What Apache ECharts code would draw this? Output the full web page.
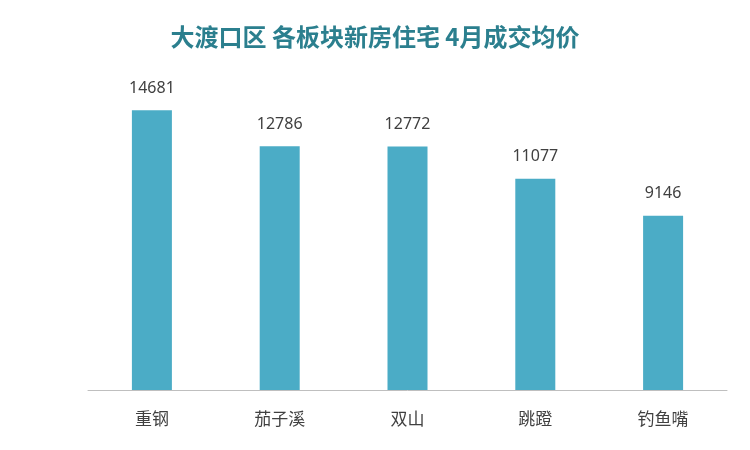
<!DOCTYPE html>
<html><head><meta charset="utf-8">
<script src="https://cdn.jsdelivr.net/npm/echarts@6/dist/echarts.min.js"></script>
<style>html,body{margin:0;padding:0;background:#fff}#c{width:750px;height:450px}</style>
</head><body><div id="c"></div>
<script>
const categories = ['重钢','茄子溪','双山','跳蹬','钓鱼嘴'];
const prices = [14681, 12786, 12772, 11077, 9146];
const chart = echarts.init(document.getElementById('c'));
chart.setOption({
  title:{text:'大渡口区 各板块新房住宅 4月成交均价',left:'center',top:20,
    textStyle:{fontFamily:'Noto Sans CJK SC',fontSize:24,fontWeight:'bold',color:'#2B7F8E'}},
  grid:{left:88,right:23,top:85,bottom:60},
  xAxis:{type:'category',data:categories,
    axisLine:{lineStyle:{color:'#BFBFBF'}},axisTick:{show:false},
    axisLabel:{fontFamily:'Noto Sans CJK SC',fontSize:17,color:'#404040',margin:20}},
  yAxis:{type:'value',min:0,max:16000,show:false,splitLine:{show:false}},
  series:[{type:'bar',data:prices,barWidth:40,itemStyle:{color:'#4BACC6'},
    label:{show:true,position:'top',distance:14,fontFamily:'Noto Sans',fontSize:16,color:'#404040'}}]
});
</script></body></html>
